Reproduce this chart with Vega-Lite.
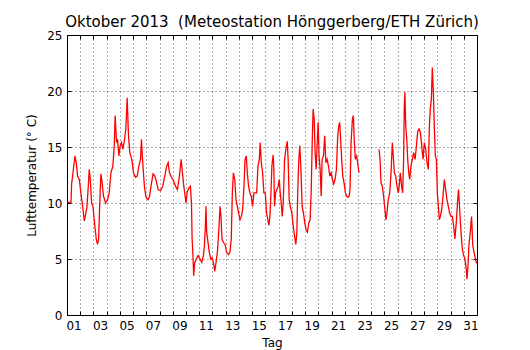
{
  "$schema": "https://vega.github.io/schema/vega-lite/v6.json",
  "width": 410,
  "height": 280,
  "autosize": "none",
  "padding": {"left": 67, "top": 35, "right": 53, "bottom": 35},
  "background": "white",
  "config": {
    "font": "DejaVu Sans",
    "view": {"stroke": "black", "strokeWidth": 1},
    "axis": {"labelColor": "black", "titleColor": "black", "tickColor": "black", "labelFontSize": 12, "titleFontSize": 12, "titleFontWeight": "normal"}
  },
  "title": {"text": "Oktober 2013 \u00a0(Meteostation Hönggerberg/ETH Zürich)", "fontSize": 15, "fontWeight": "normal", "color": "black", "offset": -1, "anchor": "middle"},
  "datasets": {
    "temp": [
      {"d":0.00,"t":10.1,"s":1},{"d":0.30,"t":10.0,"s":1},{"d":0.35,"t":11.7,"s":1},{"d":0.60,"t":14.2,"s":1},{"d":0.70,"t":13.6,"s":1},{"d":0.80,"t":12.4,"s":1},{"d":0.93,"t":12.1,"s":1},{"d":1.05,"t":10.9,"s":1},{"d":1.18,"t":9.7,"s":1},{"d":1.31,"t":8.4,"s":1},{"d":1.43,"t":9.1,"s":1},{"d":1.51,"t":9.7,"s":1},{"d":1.61,"t":11.5,"s":1},{"d":1.68,"t":13.0,"s":1},{"d":1.76,"t":12.1,"s":1},{"d":1.86,"t":10.0,"s":1},{"d":1.96,"t":9.7,"s":1},{"d":2.11,"t":7.9,"s":1},{"d":2.21,"t":6.8,"s":1},{"d":2.31,"t":6.3,"s":1},{"d":2.39,"t":6.8,"s":1},{"d":2.46,"t":9.4,"s":1},{"d":2.56,"t":12.6,"s":1},{"d":2.66,"t":11.8,"s":1},{"d":2.76,"t":10.6,"s":1},{"d":2.92,"t":10.0,"s":1},{"d":3.07,"t":10.3,"s":1},{"d":3.19,"t":10.9,"s":1},{"d":3.32,"t":12.7,"s":1},{"d":3.47,"t":13.3,"s":1},{"d":3.57,"t":15.1,"s":1},{"d":3.64,"t":17.8,"s":1},{"d":3.75,"t":15.4,"s":1},{"d":3.82,"t":15.7,"s":1},{"d":3.92,"t":14.2,"s":1},{"d":4.02,"t":15.1,"s":1},{"d":4.12,"t":15.4,"s":1},{"d":4.22,"t":14.8,"s":1},{"d":4.32,"t":15.4,"s":1},{"d":4.45,"t":16.6,"s":1},{"d":4.55,"t":19.4,"s":1},{"d":4.65,"t":16.0,"s":1},{"d":4.75,"t":14.5,"s":1},{"d":4.90,"t":13.9,"s":1},{"d":5.03,"t":12.7,"s":1},{"d":5.18,"t":12.3,"s":1},{"d":5.31,"t":12.4,"s":1},{"d":5.43,"t":13.3,"s":1},{"d":5.56,"t":13.9,"s":1},{"d":5.63,"t":15.7,"s":1},{"d":5.68,"t":14.5,"s":1},{"d":5.76,"t":13.0,"s":1},{"d":5.86,"t":11.4,"s":1},{"d":5.98,"t":10.5,"s":1},{"d":6.14,"t":10.3,"s":1},{"d":6.24,"t":10.6,"s":1},{"d":6.39,"t":11.8,"s":1},{"d":6.51,"t":12.6,"s":1},{"d":6.64,"t":12.4,"s":1},{"d":6.74,"t":12.0,"s":1},{"d":6.89,"t":11.2,"s":1},{"d":7.07,"t":11.1,"s":1},{"d":7.24,"t":11.5,"s":1},{"d":7.39,"t":12.4,"s":1},{"d":7.54,"t":13.3,"s":1},{"d":7.65,"t":13.6,"s":1},{"d":7.75,"t":12.7,"s":1},{"d":7.90,"t":12.3,"s":1},{"d":8.05,"t":12.0,"s":1},{"d":8.20,"t":11.5,"s":1},{"d":8.35,"t":11.2,"s":1},{"d":8.50,"t":12.4,"s":1},{"d":8.63,"t":13.9,"s":1},{"d":8.73,"t":12.7,"s":1},{"d":8.83,"t":11.5,"s":1},{"d":8.90,"t":10.9,"s":1},{"d":9.00,"t":10.0,"s":1},{"d":9.08,"t":10.9,"s":1},{"d":9.15,"t":11.2,"s":1},{"d":9.26,"t":11.4,"s":1},{"d":9.33,"t":11.5,"s":1},{"d":9.41,"t":10.0,"s":1},{"d":9.46,"t":6.8,"s":1},{"d":9.51,"t":5.7,"s":1},{"d":9.58,"t":3.5,"s":1},{"d":9.66,"t":4.7,"s":1},{"d":9.78,"t":5.0,"s":1},{"d":9.91,"t":5.3,"s":1},{"d":10.06,"t":5.0,"s":1},{"d":10.19,"t":4.7,"s":1},{"d":10.31,"t":5.3,"s":1},{"d":10.39,"t":6.2,"s":1},{"d":10.46,"t":7.9,"s":1},{"d":10.51,"t":9.7,"s":1},{"d":10.56,"t":7.4,"s":1},{"d":10.66,"t":6.5,"s":1},{"d":10.76,"t":5.6,"s":1},{"d":10.87,"t":5.0,"s":1},{"d":10.97,"t":5.1,"s":1},{"d":11.07,"t":4.7,"s":1},{"d":11.17,"t":3.9,"s":1},{"d":11.27,"t":4.7,"s":1},{"d":11.37,"t":5.6,"s":1},{"d":11.47,"t":7.4,"s":1},{"d":11.57,"t":9.7,"s":1},{"d":11.64,"t":8.8,"s":1},{"d":11.72,"t":6.8,"s":1},{"d":11.82,"t":6.5,"s":1},{"d":11.95,"t":6.3,"s":1},{"d":12.07,"t":5.6,"s":1},{"d":12.20,"t":5.4,"s":1},{"d":12.32,"t":5.6,"s":1},{"d":12.42,"t":6.8,"s":1},{"d":12.50,"t":10.9,"s":1},{"d":12.58,"t":12.7,"s":1},{"d":12.68,"t":12.1,"s":1},{"d":12.78,"t":10.3,"s":1},{"d":12.88,"t":9.7,"s":1},{"d":12.98,"t":9.1,"s":1},{"d":13.08,"t":8.5,"s":1},{"d":13.18,"t":8.8,"s":1},{"d":13.28,"t":9.4,"s":1},{"d":13.38,"t":11.5,"s":1},{"d":13.46,"t":13.9,"s":1},{"d":13.56,"t":14.2,"s":1},{"d":13.63,"t":12.7,"s":1},{"d":13.73,"t":11.5,"s":1},{"d":13.83,"t":10.9,"s":1},{"d":13.93,"t":10.6,"s":1},{"d":14.03,"t":9.7,"s":1},{"d":14.14,"t":10.9,"s":1},{"d":14.24,"t":10.9,"s":1},{"d":14.34,"t":10.9,"s":1},{"d":14.44,"t":13.3,"s":1},{"d":14.54,"t":13.9,"s":1},{"d":14.61,"t":15.4,"s":1},{"d":14.69,"t":13.6,"s":1},{"d":14.79,"t":12.7,"s":1},{"d":14.89,"t":10.9,"s":1},{"d":14.99,"t":10.9,"s":1},{"d":15.09,"t":9.1,"s":1},{"d":15.19,"t":8.5,"s":1},{"d":15.27,"t":8.0,"s":1},{"d":15.34,"t":8.8,"s":1},{"d":15.42,"t":10.9,"s":1},{"d":15.49,"t":13.3,"s":1},{"d":15.59,"t":14.3,"s":1},{"d":15.64,"t":13.0,"s":1},{"d":15.69,"t":9.7,"s":1},{"d":15.77,"t":10.9,"s":1},{"d":15.87,"t":11.2,"s":1},{"d":15.97,"t":11.5,"s":1},{"d":16.05,"t":12.1,"s":1},{"d":16.12,"t":10.9,"s":1},{"d":16.20,"t":10.0,"s":1},{"d":16.27,"t":8.8,"s":1},{"d":16.35,"t":10.0,"s":1},{"d":16.45,"t":13.9,"s":1},{"d":16.55,"t":14.8,"s":1},{"d":16.65,"t":15.5,"s":1},{"d":16.72,"t":13.9,"s":1},{"d":16.80,"t":10.3,"s":1},{"d":16.88,"t":9.7,"s":1},{"d":17.00,"t":9.1,"s":1},{"d":17.10,"t":8.0,"s":1},{"d":17.20,"t":7.1,"s":1},{"d":17.30,"t":6.3,"s":1},{"d":17.38,"t":7.4,"s":1},{"d":17.45,"t":11.2,"s":1},{"d":17.53,"t":13.9,"s":1},{"d":17.60,"t":15.1,"s":1},{"d":17.68,"t":13.3,"s":1},{"d":17.78,"t":9.7,"s":1},{"d":17.88,"t":9.1,"s":1},{"d":17.98,"t":8.2,"s":1},{"d":18.08,"t":7.6,"s":1},{"d":18.18,"t":7.4,"s":1},{"d":18.28,"t":8.2,"s":1},{"d":18.38,"t":8.5,"s":1},{"d":18.46,"t":10.9,"s":1},{"d":18.54,"t":15.4,"s":1},{"d":18.61,"t":18.4,"s":1},{"d":18.69,"t":17.5,"s":1},{"d":18.76,"t":14.5,"s":1},{"d":18.84,"t":13.0,"s":1},{"d":18.91,"t":15.1,"s":1},{"d":18.99,"t":17.2,"s":1},{"d":19.06,"t":14.2,"s":1},{"d":19.14,"t":13.0,"s":1},{"d":19.22,"t":10.6,"s":1},{"d":19.29,"t":13.9,"s":1},{"d":19.39,"t":14.2,"s":1},{"d":19.49,"t":16.0,"s":1},{"d":19.57,"t":13.6,"s":1},{"d":19.67,"t":13.9,"s":1},{"d":19.77,"t":13.3,"s":1},{"d":19.87,"t":12.4,"s":1},{"d":19.97,"t":12.7,"s":1},{"d":20.07,"t":12.1,"s":1},{"d":20.17,"t":11.7,"s":1},{"d":20.27,"t":12.1,"s":1},{"d":20.37,"t":13.0,"s":1},{"d":20.47,"t":16.0,"s":1},{"d":20.55,"t":16.9,"s":1},{"d":20.62,"t":17.2,"s":1},{"d":20.70,"t":15.4,"s":1},{"d":20.77,"t":13.9,"s":1},{"d":20.85,"t":12.4,"s":1},{"d":20.95,"t":11.8,"s":1},{"d":21.05,"t":10.9,"s":1},{"d":21.15,"t":10.6,"s":1},{"d":21.25,"t":10.5,"s":1},{"d":21.33,"t":10.6,"s":1},{"d":21.40,"t":11.2,"s":1},{"d":21.48,"t":15.4,"s":1},{"d":21.58,"t":17.5,"s":1},{"d":21.65,"t":17.8,"s":1},{"d":21.73,"t":15.4,"s":1},{"d":21.80,"t":13.9,"s":1},{"d":21.90,"t":14.2,"s":1},{"d":22.01,"t":13.3,"s":1},{"d":22.08,"t":12.7,"s":1},
      {"d":23.59,"t":14.8,"s":2},{"d":23.67,"t":13.9,"s":2},{"d":23.74,"t":11.8,"s":2},{"d":23.84,"t":11.5,"s":2},{"d":23.94,"t":10.6,"s":2},{"d":24.04,"t":9.4,"s":2},{"d":24.12,"t":8.5,"s":2},{"d":24.19,"t":9.1,"s":2},{"d":24.29,"t":10.3,"s":2},{"d":24.40,"t":10.9,"s":2},{"d":24.50,"t":12.7,"s":2},{"d":24.60,"t":15.4,"s":2},{"d":24.67,"t":14.2,"s":2},{"d":24.75,"t":12.7,"s":2},{"d":24.85,"t":12.4,"s":2},{"d":24.95,"t":11.5,"s":2},{"d":25.05,"t":10.9,"s":2},{"d":25.12,"t":11.5,"s":2},{"d":25.20,"t":12.7,"s":2},{"d":25.30,"t":11.5,"s":2},{"d":25.38,"t":10.9,"s":2},{"d":25.45,"t":13.9,"s":2},{"d":25.50,"t":18.4,"s":2},{"d":25.55,"t":19.9,"s":2},{"d":25.61,"t":16.9,"s":2},{"d":25.69,"t":15.7,"s":2},{"d":25.76,"t":13.9,"s":2},{"d":25.84,"t":12.7,"s":2},{"d":25.91,"t":12.1,"s":2},{"d":26.01,"t":13.3,"s":2},{"d":26.11,"t":13.9,"s":2},{"d":26.21,"t":14.5,"s":2},{"d":26.32,"t":13.9,"s":2},{"d":26.42,"t":15.1,"s":2},{"d":26.52,"t":16.4,"s":2},{"d":26.62,"t":16.6,"s":2},{"d":26.72,"t":16.3,"s":2},{"d":26.82,"t":15.1,"s":2},{"d":26.92,"t":13.9,"s":2},{"d":27.02,"t":15.4,"s":2},{"d":27.12,"t":14.8,"s":2},{"d":27.22,"t":13.6,"s":2},{"d":27.32,"t":13.0,"s":2},{"d":27.40,"t":16.9,"s":2},{"d":27.47,"t":18.4,"s":2},{"d":27.55,"t":19.3,"s":2},{"d":27.62,"t":22.1,"s":2},{"d":27.70,"t":19.9,"s":2},{"d":27.77,"t":16.9,"s":2},{"d":27.85,"t":14.2,"s":2},{"d":27.93,"t":13.9,"s":2},{"d":28.00,"t":10.9,"s":2},{"d":28.08,"t":9.7,"s":2},{"d":28.15,"t":8.5,"s":2},{"d":28.23,"t":8.8,"s":2},{"d":28.33,"t":9.4,"s":2},{"d":28.43,"t":10.6,"s":2},{"d":28.53,"t":12.1,"s":2},{"d":28.63,"t":11.2,"s":2},{"d":28.73,"t":10.3,"s":2},{"d":28.83,"t":9.7,"s":2},{"d":28.93,"t":9.1,"s":2},{"d":29.03,"t":8.8,"s":2},{"d":29.13,"t":8.8,"s":2},{"d":29.23,"t":8.0,"s":2},{"d":29.33,"t":6.8,"s":2},{"d":29.43,"t":8.2,"s":2},{"d":29.54,"t":10.3,"s":2},{"d":29.61,"t":11.2,"s":2},{"d":29.69,"t":9.4,"s":2},{"d":29.79,"t":7.4,"s":2},{"d":29.89,"t":5.9,"s":2},{"d":29.99,"t":5.3,"s":2},{"d":30.09,"t":5.0,"s":2},{"d":30.19,"t":4.1,"s":2},{"d":30.24,"t":3.2,"s":2},{"d":30.32,"t":4.4,"s":2},{"d":30.39,"t":6.2,"s":2},{"d":30.49,"t":7.4,"s":2},{"d":30.59,"t":8.8,"s":2},{"d":30.68,"t":6.2,"s":2},{"d":30.78,"t":5.6,"s":2},{"d":30.88,"t":5.0,"s":2},{"d":30.97,"t":4.6,"s":2}
    ]
  },
  "layer": [
    {
      "data": {"name": "temp"},
      "mark": {"type": "line", "color": "red", "strokeWidth": 1.3, "clip": true},
      "encoding": {
        "x": {
          "field": "d", "type": "quantitative",
          "scale": {"domain": [0, 31], "nice": false, "zero": false},
          "axis": {
            "orient": "bottom",
            "values": [0,0.5,1,1.5,2,2.5,3,3.5,4,4.5,5,5.5,6,6.5,7,7.5,8,8.5,9,9.5,10,10.5,11,11.5,12,12.5,13,13.5,14,14.5,15,15.5,16,16.5,17,17.5,18,18.5,19,19.5,20,20.5,21,21.5,22,22.5,23,23.5,24,24.5,25,25.5,26,26.5,27,27.5,28,28.5,29,29.5,30,30.5,31],
            "labelExpr": "((datum.value - 0.5) % 2 == 0) ? format(datum.value + 0.5, '02d') : ''",
            "labelOverlap": false,
            "labelFlush": false,
            "tickOpacity": {"condition": {"test": "datum.value % 1 == 0", "value": 1}, "value": 0},
            "tickSize": -4,
            "labelPadding": 9,
            "grid": true,
            "gridColor": "black",
            "gridDash": [1, 3],
            "gridWidth": 0.8,
            "gridOpacity": {"condition": {"test": "datum.value % 1 == 0", "value": 0.8}, "value": 0},
            "domain": false,
            "title": "Tag",
            "titlePadding": 6
          }
        },
        "y": {
          "field": "t", "type": "quantitative",
          "scale": {"domain": [0, 25], "nice": false, "zero": false},
          "axis": {
            "orient": "left",
            "values": [0, 5, 10, 15, 20, 25],
            "tickSize": -4,
            "labelPadding": 9,
            "grid": true,
            "gridColor": "black",
            "gridDash": [1, 3],
            "gridWidth": 0.8,
            "gridOpacity": 0.8,
            "domain": false,
            "title": "Lufttemperatur (° C)",
            "titlePadding": 8
          }
        },
        "detail": {"field": "s", "type": "nominal"}
      }
    },
    {
      "data": {"name": "temp"},
      "mark": {"type": "line", "opacity": 0},
      "encoding": {
        "x": {
          "field": "d", "type": "quantitative",
          "scale": {"domain": [0, 31], "nice": false, "zero": false},
          "axis": {"orient": "top", "values": [0,1,2,3,4,5,6,7,8,9,10,11,12,13,14,15,16,17,18,19,20,21,22,23,24,25,26,27,28,29,30,31], "labels": false, "grid": false, "domain": false, "tickSize": -4, "title": null}
        },
        "y": {
          "field": "t", "type": "quantitative",
          "scale": {"domain": [0, 25], "nice": false, "zero": false},
          "axis": {"orient": "right", "values": [0, 5, 10, 15, 20, 25], "labels": false, "grid": false, "domain": false, "tickSize": -4, "title": null}
        },
        "detail": {"field": "s", "type": "nominal"}
      }
    }
  ],
  "resolve": {"axis": {"x": "independent", "y": "independent"}}
}
